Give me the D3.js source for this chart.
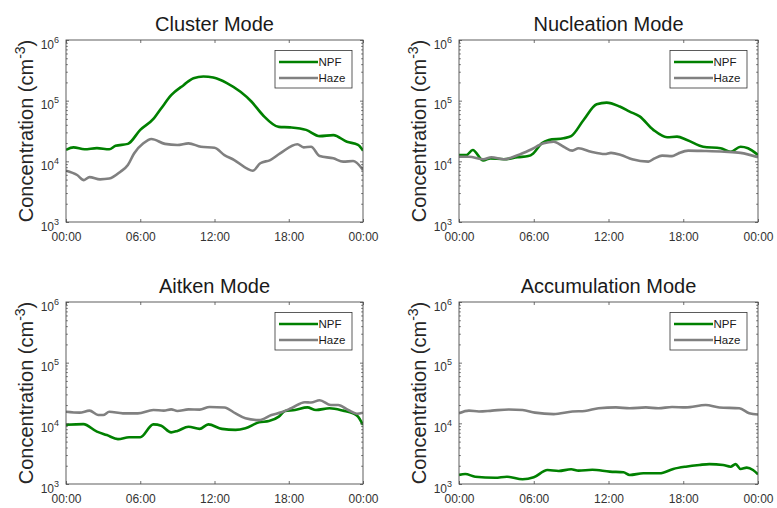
<!DOCTYPE html>
<html>
<head>
<meta charset="utf-8">
<script src="https://cdn.jsdelivr.net/npm/d3@7"></script>
<style>
	body { margin: 0; background: #fff; }
	text { font-family: "Liberation Sans", Arial, Helvetica, sans-serif; }
</style>
</head>
<body>
<svg id="chart" width="777" height="508"></svg>
<script>
// [hour of day, concentration cm^-3]
const clusterNPF = [[0,15400],[0.6,17000],[1.5,15800],[2.5,16500],[3.5,15800],[4.0,18000],[5.0,19400],[6.0,33000],[7.1,51000],[7.7,75000],[8.5,123000],[9.5,180000],[10.3,235000],[11.1,250000],[11.9,240000],[13.0,195000],[14.1,140000],[15.0,96000],[15.9,58000],[17.2,37000],[18.1,36300],[19.4,33000],[20.5,26000],[21.6,27000],[22.7,21000],[23.6,18700],[24,15000]];
const clusterHaze = [[0,7000],[0.9,5950],[1.45,4900],[1.9,5500],[2.75,5050],[3.5,5200],[4.4,6750],[5.0,8700],[5.5,13500],[6.25,19800],[6.9,23400],[8.0,19400],[9.0,18600],[9.9,19800],[10.9,17400],[12.0,16700],[12.8,12700],[13.6,10500],[14.6,7650],[15.1,7000],[15.7,9300],[16.5,10500],[17.3,13500],[18.7,19100],[19.2,17000],[19.8,17400],[20.5,12200],[21.6,11200],[22.4,9900],[23.2,10100],[24,7200]];

const nucleationNPF = [[0,12700],[0.6,12700],[1.1,15400],[1.95,10300],[2.5,11200],[3.6,10800],[4.7,11700],[5.56,12200],[5.96,13500],[6.64,19800],[7.2,22500],[8.4,24000],[9.0,26000],[10.0,48000],[11.05,87000],[11.85,93000],[12.9,80000],[13.7,66000],[14.5,55000],[15.6,33000],[16.7,25000],[17.5,25500],[18.3,22500],[19.6,17400],[21.0,16400],[21.8,14400],[22.6,17400],[23.2,16400],[24,12700]];
const nucleationHaze = [[0,11900],[0.8,11900],[1.95,10800],[2.6,11700],[3.6,10800],[4.7,12600],[5.7,15400],[6.8,19800],[7.6,21000],[8.4,17400],[9.1,15000],[9.6,16400],[10.6,14400],[11.7,13200],[12.2,13800],[13.0,12700],[13.9,10800],[15.2,9900],[15.7,11200],[16.3,12400],[17.1,12200],[17.6,13500],[18.4,15000],[19.7,14800],[21.3,14400],[22.6,13800],[24,11700]];

const aitkenNPF = [[0,9500],[1.4,9700],[2.5,7300],[3.3,6400],[4.2,5500],[5.1,5900],[6.0,5900],[7.06,9600],[7.7,9100],[8.5,7100],[9.0,7500],[9.9,8800],[10.8,8100],[11.5,9600],[12.6,8100],[13.7,7800],[14.5,8300],[15.6,10400],[16.4,10900],[17.2,12900],[17.7,16000],[18.5,16600],[19.5,18300],[20.2,16600],[21.3,17700],[22.4,16200],[23.2,14600],[23.6,12900],[24,9400]];
const aitkenHaze = [[0,15500],[1.1,15000],[1.9,16200],[2.6,13700],[3.0,13700],[3.5,15500],[4.6,14600],[5.8,14600],[7.06,16600],[7.9,16200],[8.5,17000],[9.0,16000],[9.9,17000],[10.8,16800],[11.6,18600],[12.8,18200],[13.7,14600],[14.5,12100],[15.6,11300],[16.6,13700],[17.4,15200],[18.2,17700],[19.3,22300],[19.8,22000],[20.5,24000],[21.4,20000],[22.0,20000],[22.8,16600],[23.5,14400],[24,15000]];

const accumNPF = [[0,1410],[0.5,1460],[1.3,1320],[2.9,1270],[3.85,1320],[5.1,1200],[6.0,1290],[7.1,1700],[8.0,1640],[9.0,1750],[9.6,1660],[10.7,1720],[12.1,1600],[13.2,1560],[13.7,1410],[14.8,1500],[16.1,1500],[17.2,1770],[18.2,1930],[19.3,2060],[20.1,2130],[21.2,2060],[21.8,1930],[22.2,2130],[22.6,1770],[23.1,1860],[23.6,1700],[24,1440]];
const accumHaze = [[0,14700],[0.8,16200],[1.6,15700],[2.65,16200],[4.0,16900],[5.1,16600],[6.1,15000],[7.6,14200],[9.1,15700],[10.1,16000],[11.2,17700],[12.6,18300],[13.7,17700],[15.0,18300],[16.0,17700],[17.1,18600],[18.2,18300],[19.8,20000],[20.9,18200],[22.5,17700],[23.3,14700],[24,14000]];

const titles = ["Cluster Mode", "Nucleation Mode", "Aitken Mode", "Accumulation Mode"];
const seriesNames = ["NPF", "Haze"];
const seriesColors = ["#008000", "#808080"];
const hourTicks = [0, 6, 12, 18, 24];
const decadeTicks = [1e3, 1e4, 1e5, 1e6];

// panel boxes (plot area) in pixels
const panels = [
	{ title: titles[0], data: [clusterNPF, clusterHaze], left: 66, right: 363, top: 40, bottom: 222 },
	{ title: titles[1], data: [nucleationNPF, nucleationHaze], left: 459, right: 758, top: 40, bottom: 222 },
	{ title: titles[2], data: [aitkenNPF, aitkenHaze], left: 66, right: 363, top: 302, bottom: 484 },
	{ title: titles[3], data: [accumNPF, accumHaze], left: 459, right: 758, top: 302, bottom: 484 }
];

const svg = d3.select("#chart");
svg.append("rect").attr("width", 777).attr("height", 508).attr("fill", "#fff");

panels.forEach(draw_panel);

function draw_panel(p) {
	let x = d3.scaleLinear().domain([0, 24]).range([p.left, p.right]);
	let y = d3.scaleLog().domain([1e3, 1e6]).range([p.bottom, p.top]);
	let g = svg.append("g");
	let axisColor = "#4d4d4d";

	// minor log ticks
	let minor = [];
	for (let d = 1e3; d < 1e6; d *= 10) {
		for (let k = 2; k <= 9; k++) minor.push(d * k);
	}

	let line = d3.line()
		.x(function (d) { return x(d[0]); })
		.y(function (d) { return y(d[1]); })
		.curve(d3.curveMonotoneX);

	// plot clip so lines stay inside the box
	let clipId = "clip" + p.left + "_" + p.top;
	svg.append("clipPath").attr("id", clipId)
		.append("rect").attr("x", p.left).attr("y", p.top)
		.attr("width", p.right - p.left).attr("height", p.bottom - p.top);

	p.data.forEach(function (series, i) {
		g.append("path")
			.datum(series)
			.attr("clip-path", "url(#" + clipId + ")")
			.attr("fill", "none")
			.attr("stroke", seriesColors[i])
			.attr("stroke-width", 2.6)
			.attr("stroke-linejoin", "round")
			.attr("d", line);
	});

	// axes (inward ticks on all four sides)
	let bottomAxis = g.append("g").attr("transform", "translate(0," + p.bottom + ")")
		.call(d3.axisBottom(x).tickValues(hourTicks).tickSize(-3).tickPadding(10.5)
			.tickFormat(function (h) { return d3.format("02")(h % 24) + ":00"; }));
	let topAxis = g.append("g").attr("transform", "translate(0," + p.top + ")")
		.call(d3.axisTop(x).tickValues(hourTicks).tickSize(-3).tickFormat(""));
	let leftAxis = g.append("g").attr("transform", "translate(" + p.left + ",0)")
		.call(d3.axisLeft(y).tickValues(decadeTicks).tickSize(-3).tickFormat(""));
	let leftMinor = g.append("g").attr("transform", "translate(" + p.left + ",0)")
		.call(d3.axisLeft(y).tickValues(minor).tickSize(-1.8).tickFormat(""));
	let rightAxis = g.append("g").attr("transform", "translate(" + p.right + ",0)")
		.call(d3.axisRight(y).tickValues(decadeTicks).tickSize(-3).tickFormat(""));
	let rightMinor = g.append("g").attr("transform", "translate(" + p.right + ",0)")
		.call(d3.axisRight(y).tickValues(minor).tickSize(-1.8).tickFormat(""));

	[bottomAxis, topAxis, leftAxis, leftMinor, rightAxis, rightMinor].forEach(function (a) {
		a.select(".domain").remove();
		a.selectAll("line").attr("stroke", axisColor).attr("stroke-width", 0.8);
	});
	bottomAxis.selectAll("text").attr("font-size", 12).attr("fill", "#333")
		.style("font-family", "'Liberation Sans', Arial, sans-serif");

	// decade labels 10^n
	decadeTicks.forEach(function (v) {
		let t = g.append("text")
			.attr("x", p.left - 7)
			.attr("y", y(v) + 8.5)
			.attr("text-anchor", "end")
			.attr("fill", "#333")
			.attr("font-size", 12);
		t.append("tspan").text("10");
		t.append("tspan").attr("font-size", 9).attr("dy", -6).text(Math.round(Math.log10(v)));
	});

	// box
	g.append("rect")
		.attr("x", p.left).attr("y", p.top)
		.attr("width", p.right - p.left).attr("height", p.bottom - p.top)
		.attr("fill", "none").attr("stroke", axisColor).attr("stroke-width", 0.9);

	// title
	g.append("text")
		.attr("x", (p.left + p.right) / 2)
		.attr("y", p.top - 9)
		.attr("text-anchor", "middle")
		.attr("font-size", 20)
		.attr("fill", "#1a1a1a")
		.text(p.title);

	// y label
	let cy = (p.top + p.bottom) / 2;
	let lab = g.append("text")
		.attr("transform", "translate(" + (p.left - 33) + "," + cy + ") rotate(-90)")
		.attr("text-anchor", "middle")
		.attr("font-size", 20)
		.attr("fill", "#262626");
	lab.append("tspan").text("Concentration (cm");
	lab.append("tspan").attr("font-size", 14).attr("dy", -8).text("-3");
	lab.append("tspan").attr("dy", 8).text(")");

	// legend
	let lx = p.right - 88, ly = p.top + 10.5;
	let leg = g.append("g").attr("transform", "translate(" + lx + "," + ly + ")");
	leg.append("rect").attr("width", 77).attr("height", 37.5)
		.attr("fill", "#fff").attr("stroke", "#333").attr("stroke-width", 0.8);
	seriesNames.forEach(function (name, i) {
		let yy = 11.5 + i * 16;
		leg.append("line")
			.attr("x1", 4).attr("x2", 43).attr("y1", yy).attr("y2", yy)
			.attr("stroke", seriesColors[i]).attr("stroke-width", 2.6);
		leg.append("text")
			.attr("x", 43.5).attr("y", yy + 4)
			.attr("font-size", 11.5).attr("fill", "#1a1a1a")
			.text(name);
	});
}
</script>
</body>
</html>
